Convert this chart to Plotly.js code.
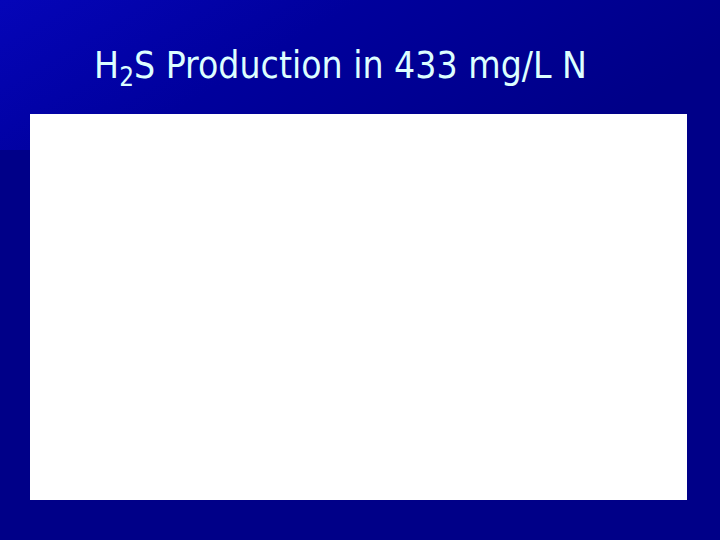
<!DOCTYPE html>
<html>
<head>
<meta charset="utf-8">
<script src="https://cdn.plot.ly/plotly-3.0.1.min.js"></script>
<style>
  html, body { margin: 0; padding: 0; background: #000088; }
  #chart { width: 720px; height: 540px; }
</style>
</head>
<body>
<div id="chart"></div>
<script>
// The slide's chart area is blank: no series points are visible
var sampleDays = [];
var h2sValues = [];
var titleText = 'H<sub>2</sub>S Production in 433 mg/L N';

// Lighter blue wash over the top-left of the slide (white patch keeps the chart box clean)
var washSvg = '<svg xmlns="http://www.w3.org/2000/svg" width="720" height="150">' +
    '<defs><linearGradient id="g" x1="0" y1="0" x2="1" y2="0.35">' +
    '<stop offset="0" stop-color="#0505b8"/>' +
    '<stop offset="0.45" stop-color="#00009c"/>' +
    '<stop offset="1" stop-color="#000088"/>' +
    '</linearGradient></defs>' +
    '<rect width="720" height="150" fill="url(#g)"/>' +
    '<rect x="30" y="114" width="657" height="36" fill="#ffffff"/></svg>';

var trace = {
    x: sampleDays,
    y: h2sValues,
    type: 'scatter',
    mode: 'lines+markers',
    hoverinfo: 'skip',
    showlegend: false
};

var layout = {
    width: 720,
    height: 540,
    paper_bgcolor: '#000088',
    plot_bgcolor: '#ffffff',
    margin: {l: 30, r: 33, t: 114, b: 40, pad: 0},
    title: {
        text: titleText,
        font: {family: 'DejaVu Sans Condensed, DejaVu Sans, sans-serif', size: 37, color: '#ddffff'},
        xref: 'container',
        yref: 'container',
        x: 0.473,
        y: 0.879,
        xanchor: 'center',
        yanchor: 'middle'
    },
    xaxis: {visible: false, showgrid: false, zeroline: false},
    yaxis: {visible: false, showgrid: false, zeroline: false},
    images: [{
        source: 'data:image/svg+xml;charset=utf-8,' + encodeURIComponent(washSvg),
        xref: 'paper', yref: 'paper',
        x: -30 / 657, y: 1 + 114 / 386,
        sizex: 720 / 657, sizey: 150 / 386,
        sizing: 'stretch',
        xanchor: 'left', yanchor: 'top',
        layer: 'below'
    }],
    showlegend: false
};

Plotly.newPlot('chart', [trace], layout, {displayModeBar: false, staticPlot: true});
</script>
</body>
</html>
